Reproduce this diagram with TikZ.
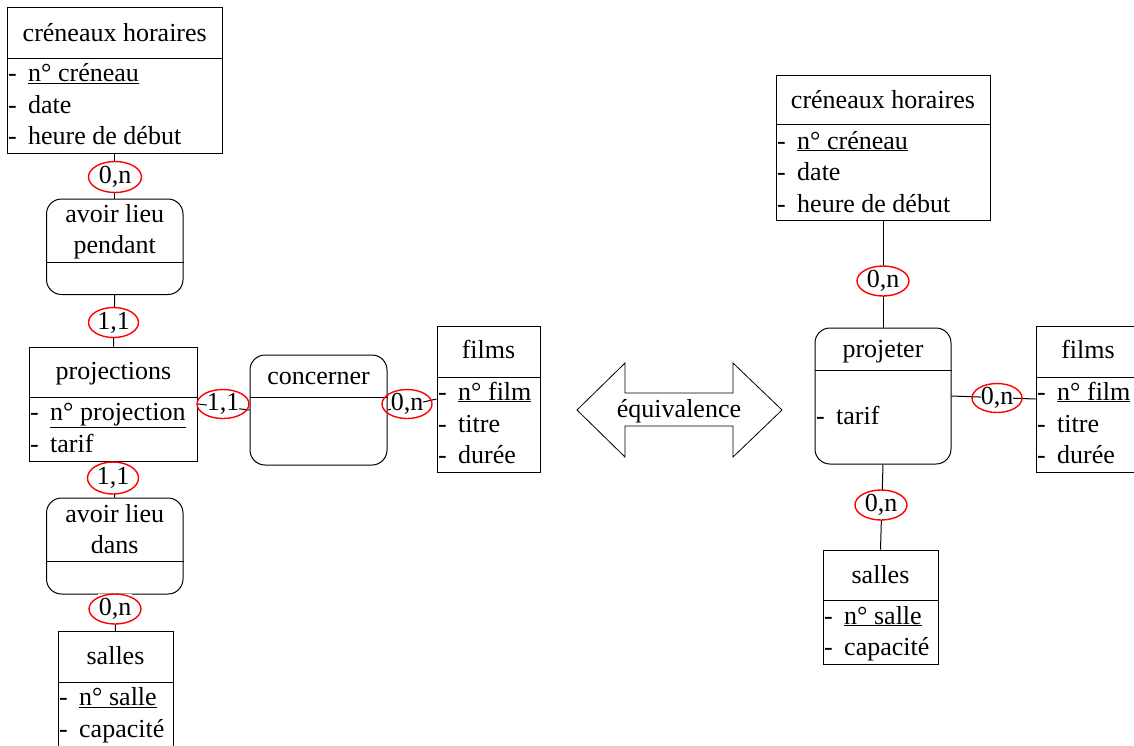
\documentclass[tikz,border=0pt]{standalone}
\usepackage{fontspec}
\newfontfamily\diafont{Liberation Serif}
\newcommand{\attrtxt}[1]{\makebox[20pt][l]{-}#1}
\begin{document}
\begin{tikzpicture}[x=1pt,y=-1pt,
  every node/.style={font=\diafont\fontsize{26}{31.5}\selectfont, inner sep=0pt},
  conn/.style={line width=1pt, black},
  entbox/.style={draw, line width=1pt, rectangle},
  relbox/.style={draw, line width=1pt, rectangle, rounded corners=15pt},
  ttl/.style={anchor=base},
  attr/.style={anchor=base west},
  cardtxt/.style={fill=white, inner xsep=1pt, inner ysep=4pt},
  ring/.style={draw=red, line width=1.4pt},
  arrowshape/.style={draw, line width=0.8pt}]
\useasboundingbox (0,0) rectangle (1134,745);

% ---------- LEFT MODEL ----------
\node[entbox, minimum width=214.5pt, minimum height=145.5pt] (chL) at (114.75,80.25) {};
\draw[conn] (chL.west |- 0,58) -- (chL.east |- 0,58);
\node[ttl] (chLt) at (114.75,41) {créneaux horaires};
\node[attr] (chL1) at (8,81.5) {\attrtxt{\underline{n° créneau}}};
\node[attr] (chL2) at (8,113) {\attrtxt{date}};
\node[attr] (chL3) at (8,144.5) {\attrtxt{heure de début}};

\node[relbox, minimum width=136.5pt, minimum height=95.5pt] (alp) at (114.75,246.75) {};
\draw[conn] (alp.west |- 0,262) -- (alp.east |- 0,262);
\node[ttl] (alpt1) at (114.75,222) {avoir lieu};
\node[ttl] (alpt2) at (114.75,253.5) {pendant};

\node[entbox, minimum width=168pt, minimum height=114pt] (proj) at (113.5,404) {};
\draw[conn] (proj.west |- 0,397) -- (proj.east |- 0,397);
\node[ttl] (projt) at (113.5,379) {projections};
\node[attr] (proj1) at (30,420.5) {\attrtxt{\underline{n° projection}}};
\node[attr] (proj2) at (30,452) {\attrtxt{tarif}};

\node[relbox, minimum width=136.5pt, minimum height=96pt] (ald) at (114.75,546) {};
\draw[conn] (ald.west |- 0,561) -- (ald.east |- 0,561);
\node[ttl] (aldt1) at (114.75,522) {avoir lieu};
\node[ttl] (aldt2) at (114.75,553.5) {dans};

\node[entbox, minimum width=115pt, minimum height=120pt] (salL) at (115.5,691.5) {};
\draw[conn] (salL.west |- 0,682) -- (salL.east |- 0,682);
\node[ttl] (salLt) at (115.5,664) {salles};
\node[attr] (salL1) at (59,705.5) {\attrtxt{\underline{n° salle}}};
\node[attr] (salL2) at (59,737) {\attrtxt{capacité}};

\node[relbox, minimum width=137pt, minimum height=110pt] (conc) at (318.5,410) {};
\draw[conn] (conc.west |- 0,397) -- (conc.east |- 0,397);
\node[ttl] (conct) at (318.5,384) {concerner};

\node[entbox, minimum width=103pt, minimum height=146pt] (filL) at (488.5,399) {};
\draw[conn] (filL.west |- 0,377) -- (filL.east |- 0,377);
\node[ttl] (filLt) at (488.5,358) {films};
\node[attr] (filL1) at (438,400) {\attrtxt{\underline{n° film}}};
\node[attr] (filL2) at (438,432) {\attrtxt{titre}};
\node[attr] (filL3) at (438,463.5) {\attrtxt{durée}};

% connectors (left)
\draw[conn] (chL.south) -- (alp.north);
\draw[conn] (alp.south) -- (proj.north);
\draw[conn] (proj.south) -- (ald.north);
\draw[conn] (ald.south) -- (salL.north);
\draw[conn] (proj.east) -- (conc.west);
\draw[conn] (conc.east) -- (filL.west);

% cardinalities (left)
\node[cardtxt] (c1) at (115,177) {0,n};
\draw[ring] (c1.center) ellipse [x radius=26.5, y radius=15.5];
\node[cardtxt] (c2) at (113.5,322.5) {1,1};
\draw[ring] (c2.center) ellipse [x radius=25, y radius=15];
\node[cardtxt] (c3) at (113,478) {1,1};
\draw[ring] (c3.center) ellipse [x radius=25.5, y radius=16];
\node[cardtxt] (c4) at (115,609) {0,n};
\draw[ring] (c4.center) ellipse [x radius=26, y radius=15];
\node[cardtxt, inner xsep=0pt] (c5) at (223,404) {1,1};
\draw[ring] (c5.center) ellipse [x radius=26, y radius=14.5];
\node[cardtxt, inner xsep=0pt] (c6) at (407,404) {0,n};
\draw[ring] (c6.center) ellipse [x radius=25, y radius=14.5];

% ---------- EQUIVALENCE ARROW ----------
\draw[arrowshape] (577,410) -- (625,363) -- (625,393) -- (733,393) -- (733,363)
  -- (782,410) -- (733,457) -- (733,426) -- (625,426) -- (625,457) -- cycle;
\node[ttl] (eq) at (679,417) {équivalence};

% ---------- RIGHT MODEL ----------
\node[entbox, minimum width=214pt, minimum height=145pt] (chR) at (883,147.5) {};
\draw[conn] (chR.west |- 0,124.5) -- (chR.east |- 0,124.5);
\node[ttl] (chRt) at (883,108) {créneaux horaires};
\node[attr] (chR1) at (777,149) {\attrtxt{\underline{n° créneau}}};
\node[attr] (chR2) at (777,180.5) {\attrtxt{date}};
\node[attr] (chR3) at (777,212) {\attrtxt{heure de début}};

\node[relbox, minimum width=136pt, minimum height=136pt] (projt) at (883,396) {};
\draw[conn] (projt.west |- 0,370) -- (projt.east |- 0,370);
\node[ttl] (projtt) at (883,357) {projeter};
\node[attr] (projt1) at (816,424) {\attrtxt{tarif}};

\node[entbox, minimum width=103pt, minimum height=146pt] (filR) at (1087.5,399) {};
\draw[conn] (filR.west |- 0,377) -- (filR.east |- 0,377);
\node[ttl] (filRt) at (1088,358) {films};
\node[attr] (filR1) at (1037,400) {\attrtxt{\underline{n° film}}};
\node[attr] (filR2) at (1037,432) {\attrtxt{titre}};
\node[attr] (filR3) at (1037,463.5) {\attrtxt{durée}};

\node[entbox, minimum width=115pt, minimum height=114pt] (salR) at (880.5,607) {};
\draw[conn] (salR.west |- 0,600) -- (salR.east |- 0,600);
\node[ttl] (salRt) at (880.5,583) {salles};
\node[attr] (salR1) at (824,624) {\attrtxt{\underline{n° salle}}};
\node[attr] (salR2) at (824,655.5) {\attrtxt{capacité}};

% connectors (right)
\draw[conn] (chR.south) -- (projt.north);
\draw[conn] (projt.east) -- (filR.west);
\draw[conn] (projt.south) -- (salR.north);

% cardinalities (right)
\node[cardtxt] (c7) at (883,281) {0,n};
\draw[ring] (c7.center) ellipse [x radius=26, y radius=15];
\node[cardtxt, inner xsep=0pt] (c8) at (997,398) {0,n};
\draw[ring] (c8.center) ellipse [x radius=25, y radius=14.5];
\node[cardtxt] (c9) at (881,505) {0,n};
\draw[ring] (c9.center) ellipse [x radius=26, y radius=15];
\end{tikzpicture}
\end{document}
